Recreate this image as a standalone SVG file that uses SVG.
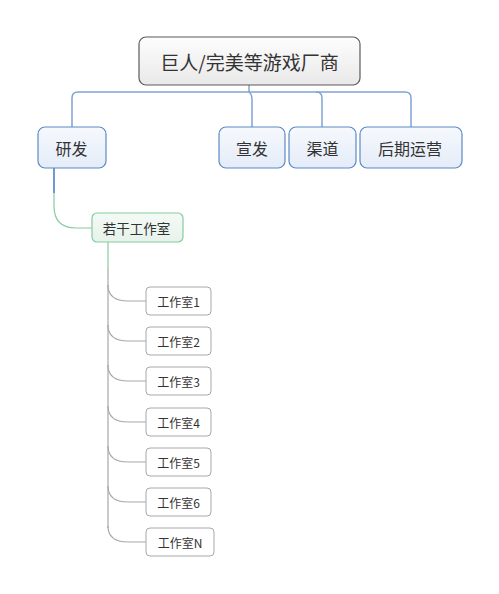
<svg xmlns="http://www.w3.org/2000/svg" width="499" height="594" viewBox="0 0 499 594">
<defs>
<linearGradient id="gRoot" x1="0" y1="0" x2="0" y2="1"><stop offset="0" stop-color="#fdfdfd"/><stop offset="1" stop-color="#e9e9e9"/></linearGradient>
<linearGradient id="gBlue" x1="0" y1="0" x2="0" y2="1"><stop offset="0" stop-color="#f6f9fd"/><stop offset="1" stop-color="#e4ecf8"/></linearGradient>
<linearGradient id="gGreen" x1="0" y1="0" x2="0" y2="1"><stop offset="0" stop-color="#f5faf6"/><stop offset="1" stop-color="#e6f2ea"/></linearGradient>
</defs>
<style>
text{font-family:"Noto Sans CJK SC","Liberation Sans",sans-serif;fill:#333;text-anchor:middle;dominant-baseline:central}
.root{fill:url(#gRoot);stroke:#5a5a5a;stroke-width:1.2}
.blue{fill:url(#gBlue);stroke:#5b8ac6;stroke-width:1.2}
.green{fill:url(#gGreen);stroke:#86cc9e;stroke-width:1.2}
.sub{fill:#fff;stroke:#a8a8a8;stroke-width:1}
.cb{fill:none;stroke:#7fa5d3;stroke-width:1.5}
.cb2{fill:none;stroke:#3f78c0;stroke-width:1.5}
.cg{fill:none;stroke:#86cc9e;stroke-width:1.2}
.cgr{fill:none;stroke:#a8a8a8;stroke-width:1.2}
</style>
<g id="connectors">
<path class="cb" d="M249,85 V92"/>
<path class="cb" d="M72,127 V98 Q72,92 78,92 H405 Q411,92 411,98 V127"/>
<path class="cb" d="M249,92 Q252,94 252,100 V127"/>
<path class="cb" d="M316,92 Q322,92 322,98 V127"/>
<path class="cb2" d="M54,168 V193"/>
<path class="cg" d="M54,193 V206 Q54,228 76,228 H92"/>
<path class="cg" d="M108,242 V268"/>
<path class="cgr" d="M108,268 V528"/>
<path class="cgr" d="M108,285 Q108,301 128,301 H146"/>
<path class="cgr" d="M108,325 Q108,341 128,341 H146"/>
<path class="cgr" d="M108,365 Q108,381 128,381 H146"/>
<path class="cgr" d="M108,406 Q108,422 128,422 H146"/>
<path class="cgr" d="M108,446 Q108,462 128,462 H146"/>
<path class="cgr" d="M108,486 Q108,502 128,502 H146"/>
<path class="cgr" d="M108,526 Q108,542 128,542 H146"/>
</g>
<g id="root"><rect class="root" x="139" y="37" width="221" height="48" rx="7"/><text x="249.5" y="61" font-size="19">巨人/完美等游戏厂商</text></g>
<g id="yanfa"><rect class="blue" x="38" y="127" width="68" height="41" rx="7"/><text x="71.5" y="147.5" font-size="16">研发</text></g>
<g id="xuanfa"><rect class="blue" x="219" y="127" width="66" height="41" rx="7"/><text x="252" y="147.5" font-size="16">宣发</text></g>
<g id="qudao"><rect class="blue" x="289" y="127" width="67" height="41" rx="7"/><text x="322.5" y="147.5" font-size="16">渠道</text></g>
<g id="houqi"><rect class="blue" x="360" y="127" width="102" height="41" rx="7"/><text x="410" y="147.5" font-size="16">后期运营</text></g>
<g id="ruogan"><rect class="green" x="92" y="213" width="91" height="29" rx="5"/><text x="136.5" y="227.5" font-size="13.5">若干工作室</text></g>
<g id="s1"><rect class="sub" x="146" y="287" width="65" height="28" rx="4"/><text x="178.5" y="301" font-size="12">工作室1</text></g>
<g id="s2"><rect class="sub" x="146" y="327" width="65" height="28" rx="4"/><text x="178.5" y="341" font-size="12">工作室2</text></g>
<g id="s3"><rect class="sub" x="146" y="367" width="65" height="28" rx="4"/><text x="178.5" y="381" font-size="12">工作室3</text></g>
<g id="s4"><rect class="sub" x="146" y="408" width="65" height="28" rx="4"/><text x="178.5" y="422" font-size="12">工作室4</text></g>
<g id="s5"><rect class="sub" x="146" y="448" width="65" height="28" rx="4"/><text x="178.5" y="462" font-size="12">工作室5</text></g>
<g id="s6"><rect class="sub" x="146" y="488" width="65" height="28" rx="4"/><text x="178.5" y="502" font-size="12">工作室6</text></g>
<g id="sN"><rect class="sub" x="146" y="528" width="68" height="28" rx="4"/><text x="180" y="542" font-size="12">工作室N</text></g>
</svg>
